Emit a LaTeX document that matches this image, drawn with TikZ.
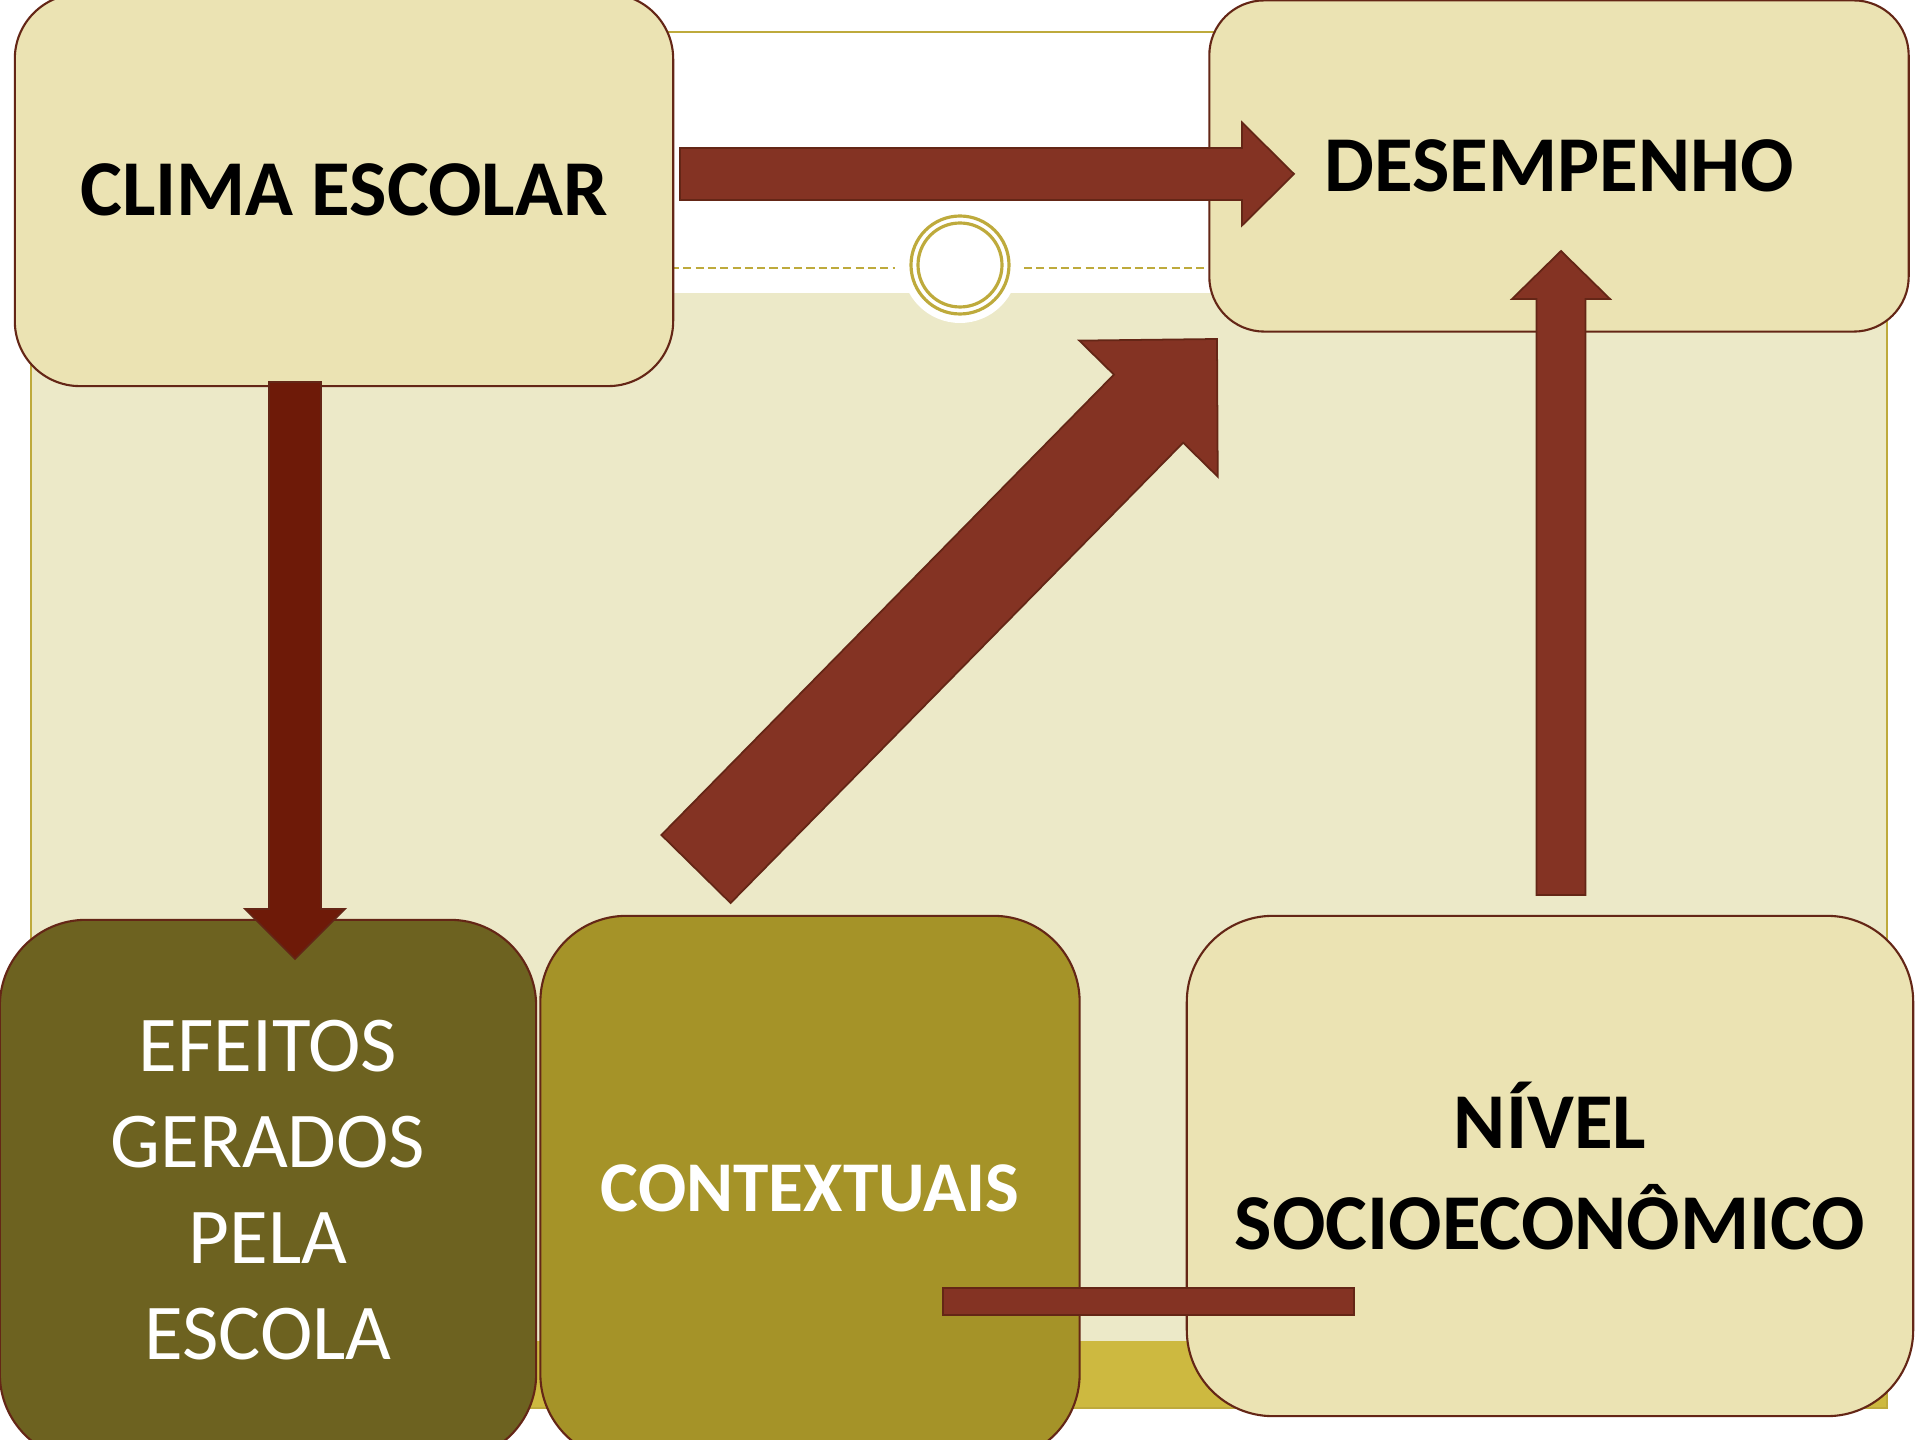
\documentclass[tikz,border=0pt]{standalone}
\usepackage{fontspec}
\setmainfont{Carlito}
\usetikzlibrary{calc}

\definecolor{cxbege}{RGB}{235,227,179}
\definecolor{cxpainel}{RGB}{236,233,200}
\definecolor{cxoliva}{RGB}{109,98,32}
\definecolor{cxouro}{RGB}{165,147,40}
\definecolor{cxfaixa}{RGB}{205,185,64}
\definecolor{cxlinha}{RGB}{190,170,60}
\definecolor{cxseta}{RGB}{132,51,35}
\definecolor{cxsetaesc}{RGB}{110,26,8}
\definecolor{cxborda}{RGB}{100,38,22}

\tikzset{
  caixa/.style={draw=cxborda, line width=0.6pt, align=center,
    font=\fontsize{22.5}{28}\selectfont},
  clara/.style={caixa, fill=cxbege, text=black, font=\fontsize{22.5}{28.5}\selectfont\bfseries},
  escura/.style={caixa, text=white},
  setafill/.style={fill=cxseta, draw=cxborda, line width=0.5pt},
}

% block arrow: [style] {from} {to} {half shaft} {half head} {head length}
\newcommand{\blockarrow}[6][setafill]{%
  \coordinate (hb) at ($(#3)!#6!(#2)$);
  \filldraw[#1] ($(#2)!#4!90:(#3)$) -- ($(hb)!#4!90:(#3)$) -- ($(hb)!#5!90:(#3)$)
    -- (#3) -- ($(hb)!#5!-90:(#3)$) -- ($(hb)!#4!-90:(#3)$) -- ($(#2)!#4!-90:(#3)$) -- cycle;
}

\begin{document}
\begin{tikzpicture}[x=0.01cm,y=-0.01cm]
\clip (0,0) rectangle (1920,1440);
\fill[white] (0,0) rectangle (1920,1440);

% slide template
\fill[cxpainel] (31,293) rectangle (1887,1341);
\fill[cxfaixa] (31,1341) rectangle (1887,1408);
\draw[cxlinha, line width=0.5pt] (31,32) rectangle (1887,1408);
\fill[white] (960,265) circle (58);
\draw[cxlinha, line width=0.7pt, dash pattern=on 2.3pt off 1.2pt] (31,268) -- (895,268);
\draw[cxlinha, line width=0.7pt, dash pattern=on 2.3pt off 1.2pt] (1024,268) -- (1887,268);
\draw[cxlinha, line width=0.9pt] (960,265) circle (49);
\draw[cxlinha, line width=0.9pt] (960,265) circle (42);

% boxes
\node[clara, rounded corners=0.65cm, minimum width=6.58cm, minimum height=3.92cm] (clima) at (344,190) {CLIMA ESCOLAR};
\node[clara, rounded corners=0.55cm, minimum width=6.99cm, minimum height=3.31cm] (desemp) at (1559,166) {DESEMPENHO};
\node[escura, fill=cxoliva, rounded corners=0.86cm, minimum width=5.36cm, minimum height=5.4cm,
  font=\fontsize{22.5}{27.3}\selectfont] (efeitos) at (268,1190) {EFEITOS\\GERADOS\\PELA\\ESCOLA};
\node[escura, fill=cxouro, rounded corners=0.86cm, minimum width=5.39cm, minimum height=5.44cm,
  font=\fontsize{20.3}{26}\selectfont\bfseries] (context) at (810,1188) {CONTEXTUAIS};
\node[clara, rounded corners=0.86cm, minimum width=7.26cm, minimum height=5.0cm] (nivel) at (1550,1166) {NÍVEL\\SOCIOECONÔMICO};

% arrows
\coordinate (clima-out) at (680,174);
\coordinate (desemp-in) at (1294,174);
\coordinate (clima-down) at (295,382);
\coordinate (efeitos-in) at (295,959);
\coordinate (nivel-up) at (1561,895);
\coordinate (desemp-in2) at (1561,251);
\coordinate (context-out) at (696,869);
\coordinate (desemp-in3) at (1217,339);

\blockarrow{clima-out}{desemp-in}{0.26cm}{0.515cm}{0.52cm}
\blockarrow[setafill, fill=cxsetaesc]{clima-down}{efeitos-in}{0.26cm}{0.5cm}{0.5cm}
\blockarrow{nivel-up}{desemp-in2}{0.245cm}{0.49cm}{0.48cm}
\blockarrow{context-out}{desemp-in3}{0.485cm}{0.97cm}{0.976cm}

\filldraw[setafill] (943,1288) rectangle (1354,1315);

\end{tikzpicture}
\end{document}
